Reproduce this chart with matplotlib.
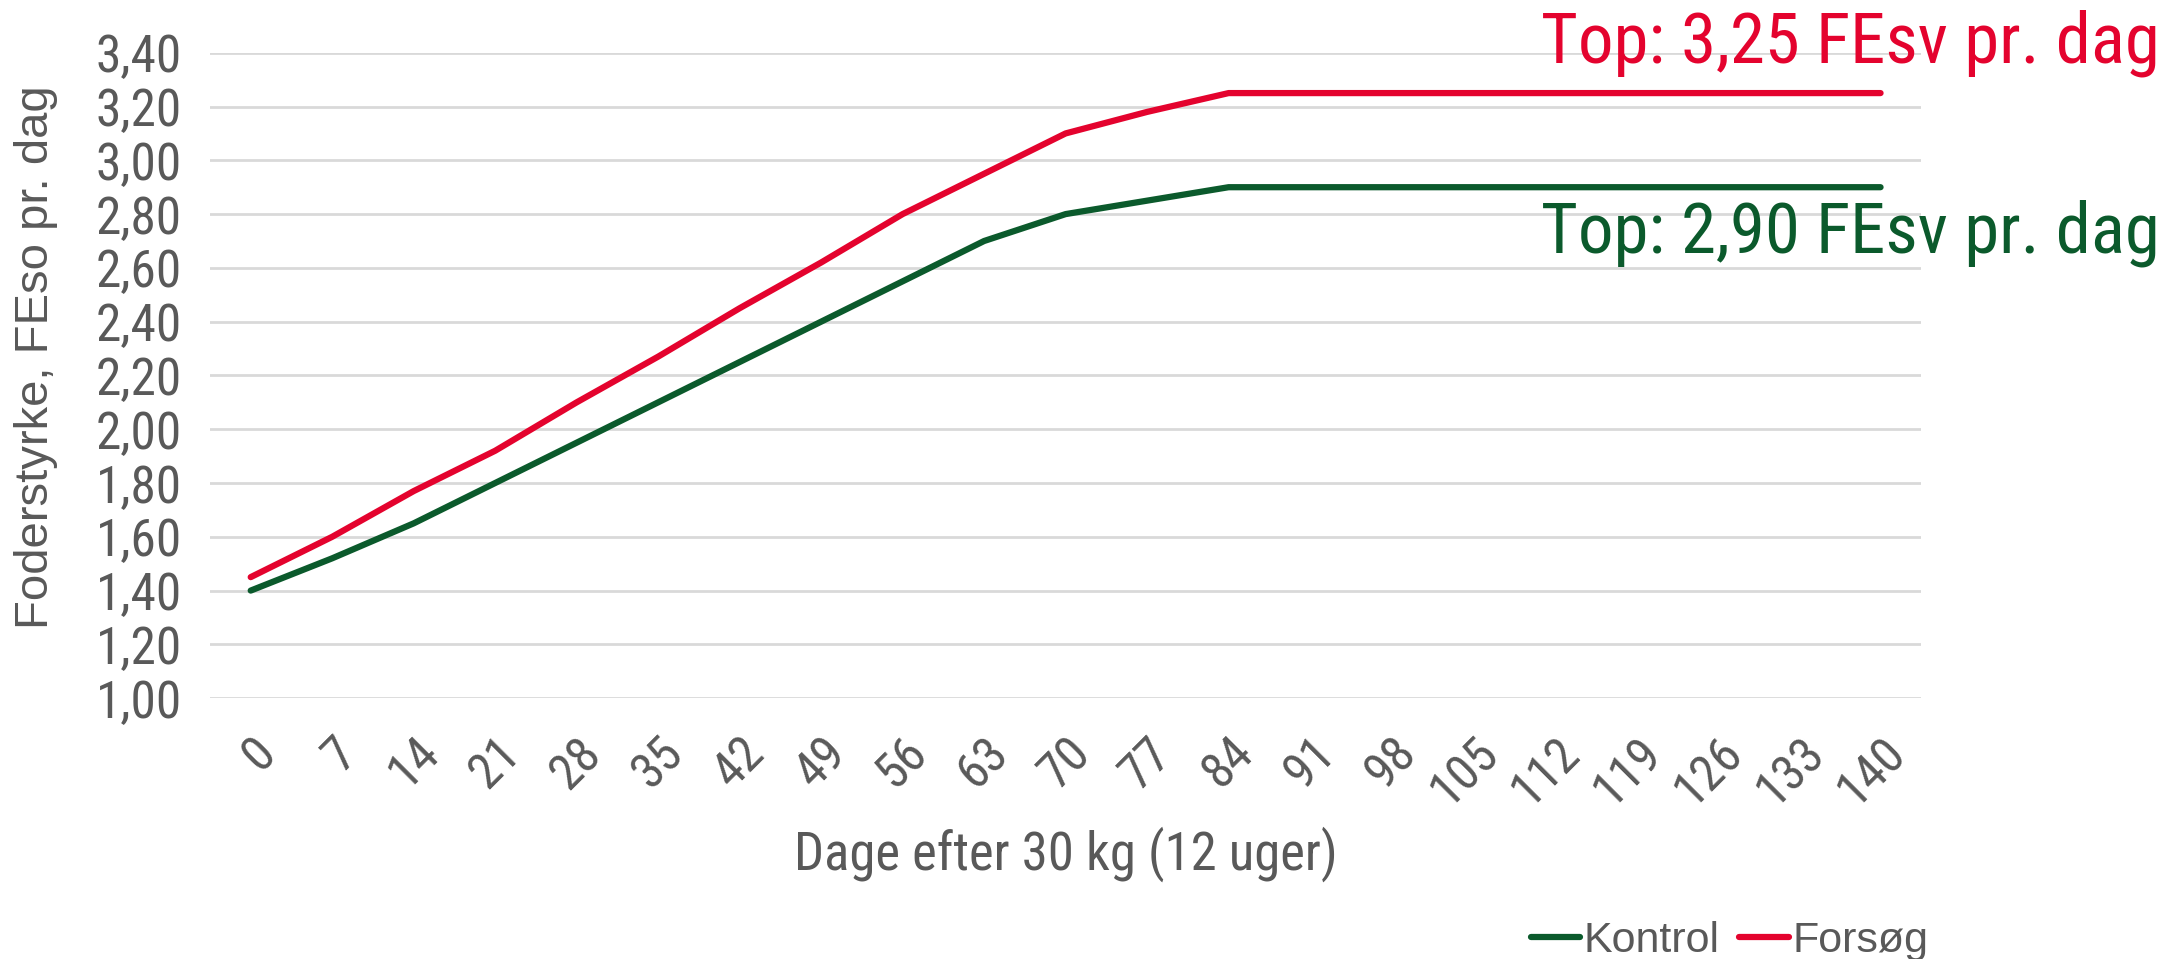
import matplotlib
matplotlib.use('Agg')
import matplotlib.pyplot as plt

dage = [0, 7, 14, 21, 28, 35, 42, 49, 56, 63, 70, 77, 84, 91, 98, 105, 112, 119, 126, 133, 140]
kontrol = [1.40, 1.52, 1.65, 1.80, 1.95, 2.10, 2.25, 2.40, 2.55, 2.70, 2.80, 2.85, 2.90,
           2.90, 2.90, 2.90, 2.90, 2.90, 2.90, 2.90, 2.90]
forsoeg = [1.45, 1.60, 1.77, 1.92, 2.10, 2.27, 2.45, 2.62, 2.80, 2.95, 3.10, 3.18, 3.25,
           3.25, 3.25, 3.25, 3.25, 3.25, 3.25, 3.25, 3.25]
yticks = [1.0, 1.2, 1.4, 1.6, 1.8, 2.0, 2.2, 2.4, 2.6, 2.8, 3.0, 3.2, 3.4]

groen = '#0B5A2C'
roed = '#E4032E'
graa = '#595959'
smal = ['Roboto Condensed', 'Liberation Sans Narrow', 'Liberation Sans', 'DejaVu Sans']
bred = ['Liberation Sans', 'DejaVu Sans']

plt.rcParams['font.family'] = bred

fig = plt.figure(figsize=(21.69, 9.59), dpi=100)
ax = fig.add_axes([0.0968, 0.272, 0.789, 0.673])

x = list(range(len(dage)))
ax.plot(x, kontrol, color=groen, lw=4.5, solid_capstyle='round', label='Kontrol')
ax.plot(x, forsoeg, color=roed, lw=4.5, solid_capstyle='round', label='Forsøg')

ax.set_xlim(-0.5, len(dage) - 0.5)
ax.set_ylim(1.0, 3.4)
ax.set_yticks(yticks)
ax.set_yticklabels([('%.2f' % v).replace('.', ',') for v in yticks],
                   fontsize=37, color=graa, family=smal)
ax.set_xticks(x)
ax.set_xticklabels([str(d) for d in dage], rotation=45, ha='right', va='top',
                   rotation_mode='anchor', fontsize=36, color=graa, family=smal)
ax.tick_params(axis='y', length=0, pad=20)
ax.tick_params(axis='x', length=0, pad=22)
ax.grid(axis='y', color='#D9D9D9', lw=2)
ax.set_axisbelow(True)
for s in ax.spines.values():
    s.set_visible(False)

ax.set_xlabel('Dage efter 30 kg (12 uger)', fontsize=38, color=graa, family=smal, labelpad=8)
ax.set_ylabel('Foderstyrke, FEso pr. dag', fontsize=34, color=graa)
ax.yaxis.set_label_coords(-0.089, 0.528)

fig.text(0.996, 0.935, 'Top: 3,25 FEsv pr. dag', color=roed, fontsize=51, family=smal,
         ha='right', va='baseline')
fig.text(0.996, 0.737, 'Top: 2,90 FEsv pr. dag', color=groen, fontsize=51, family=smal,
         ha='right', va='baseline')

fig.legend(*ax.get_legend_handles_labels(), loc='center right', bbox_to_anchor=(0.889, 0.019),
           ncol=2, frameon=False, fontsize=31, labelcolor=graa, handlelength=1.15,
           handletextpad=0.08, columnspacing=0.45, borderpad=0, borderaxespad=0)

plt.savefig('out.png', dpi=100)
